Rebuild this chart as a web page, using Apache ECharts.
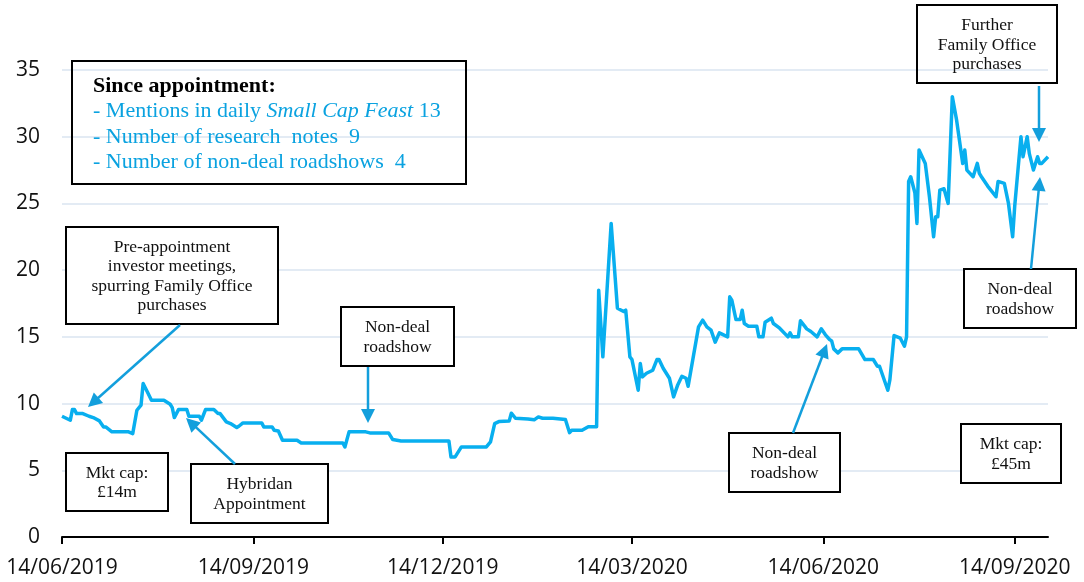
<!DOCTYPE html>
<html><head><meta charset="utf-8">
<script src="https://cdn.jsdelivr.net/npm/echarts@6/dist/echarts.min.js"></script>
<style>html,body{margin:0;padding:0;background:#fff}#c{width:1084px;height:582px}</style>
</head><body><div id="c"></div>
<script>
// ---- data ----
const dates = ['2019-06-14','2019-06-16','2019-06-18','2019-06-19','2019-06-20','2019-06-21','2019-06-24','2019-06-27','2019-06-29','2019-07-02',
'2019-07-04','2019-07-05','2019-07-08','2019-07-16','2019-07-18','2019-07-20','2019-07-22','2019-07-23','2019-07-25','2019-07-27',
'2019-08-02','2019-08-05','2019-08-06','2019-08-07','2019-08-09','2019-08-13','2019-08-14','2019-08-19','2019-08-20','2019-08-22',
'2019-08-26','2019-08-28','2019-08-29','2019-09-01','2019-09-03','2019-09-06','2019-09-07','2019-09-09','2019-09-18','2019-09-19',
'2019-09-23','2019-09-24','2019-09-26','2019-09-28','2019-10-05','2019-10-07','2019-10-27','2019-10-28','2019-10-30','2019-11-07',
'2019-11-09','2019-11-18','2019-11-20','2019-11-24','2019-12-17','2019-12-18','2019-12-20','2019-12-23','2020-01-04','2020-01-06',
'2020-01-08','2020-01-10','2020-01-15','2020-01-16','2020-01-18','2020-01-24','2020-01-27','2020-01-29','2020-01-31','2020-02-05',
'2020-02-11','2020-02-13','2020-02-14','2020-02-19','2020-02-22','2020-02-26','2020-02-27','2020-02-29','2020-03-04','2020-03-07',
'2020-03-10','2020-03-11','2020-03-13','2020-03-14','2020-03-17','2020-03-18','2020-03-19','2020-03-21','2020-03-24','2020-03-26',
'2020-03-27','2020-03-29','2020-04-01','2020-04-03','2020-04-05','2020-04-07','2020-04-09','2020-04-10','2020-04-15','2020-04-17',
'2020-04-19','2020-04-21','2020-04-23','2020-04-25','2020-04-29','2020-04-30','2020-05-01','2020-05-03','2020-05-05','2020-05-06',
'2020-05-07','2020-05-09','2020-05-13','2020-05-14','2020-05-16','2020-05-17','2020-05-20','2020-05-21','2020-05-24','2020-05-28',
'2020-05-29','2020-05-30','2020-06-02','2020-06-03','2020-06-05','2020-06-06','2020-06-08','2020-06-11','2020-06-13','2020-06-15',
'2020-06-17','2020-06-18','2020-06-19','2020-06-21','2020-06-23','2020-07-01','2020-07-04','2020-07-08','2020-07-10','2020-07-11',
'2020-07-15','2020-07-16','2020-07-18','2020-07-21','2020-07-23','2020-07-24','2020-07-25','2020-07-26','2020-07-28','2020-07-29',
'2020-07-30','2020-08-02','2020-08-04','2020-08-06','2020-08-07','2020-08-08','2020-08-09','2020-08-11','2020-08-13','2020-08-15',
'2020-08-17','2020-08-20','2020-08-21','2020-08-22','2020-08-25','2020-08-27','2020-08-28','2020-08-29','2020-09-01','2020-09-03',
'2020-09-05','2020-09-06','2020-09-09','2020-09-11','2020-09-13','2020-09-14','2020-09-17','2020-09-18','2020-09-20','2020-09-21',
'2020-09-23','2020-09-25','2020-09-26','2020-09-27','2020-09-30'];
const prices = [9.05,8.9,8.75,9.55,9.55,9.25,9.25,9.05,8.95,8.7,
8.25,8.25,7.88,7.88,7.75,9.5,9.88,11.5,10.88,10.25,
10.25,9.95,9.7,8.95,9.55,9.55,9.05,9.05,8.75,9.55,
9.55,9.25,9.25,8.63,8.5,8.2,8.3,8.55,8.55,8.25,
8.25,8.0,7.95,7.25,7.25,7.05,7.05,6.75,7.88,7.88,
7.8,7.8,7.3,7.2,7.2,6.0,6.0,6.75,6.75,7.13,
8.5,8.65,8.7,9.28,8.9,8.85,8.78,9.0,8.9,8.9,
8.8,7.82,8.0,8.0,8.27,8.27,18.5,13.5,23.5,17.15,
16.9,17.0,13.5,13.3,11.0,13.0,12.0,12.27,12.5,13.3,
13.3,12.65,11.9,10.5,11.4,12.05,11.9,11.3,15.75,16.25,
15.75,15.5,14.6,15.3,15.0,18.0,17.75,16.3,16.3,17.0,
16.0,15.8,15.8,15.0,15.0,16.1,16.4,16.0,15.65,15.0,
15.3,15.0,15.0,16.2,15.8,15.6,15.4,15.0,15.6,15.15,
14.8,14.7,14.1,13.8,14.1,14.1,13.3,13.3,12.8,12.8,
11.0,11.8,15.1,14.9,14.3,15.0,26.65,27.0,25.8,23.5,
29.0,28.0,25.5,22.5,24.0,24.0,26.0,26.1,25.0,33.0,
31.3,28.0,29.0,27.5,27.0,28.0,27.25,27.0,26.3,25.9,
25.5,26.65,26.5,25.0,22.5,24.8,30.0,28.5,30.0,28.75,
27.5,28.5,28.0,28.0,28.5];
const tickDates = ['2019-06-14','2019-09-14','2019-12-14','2020-03-14','2020-06-14','2020-09-14'];
const axisStart = '2019-06-14';
const axisEnd = '2020-09-30';
const yMin = 0, yMax = 35, yStep = 5;

// ---- helpers ----
function parseLocal(s){const p=s.split('-');return new Date(+p[0],p[1]-1,+p[2]).getTime();}
function pad(n){return (n<10?'0':'')+n;}
function fmt(v){const d=new Date(v);return pad(d.getDate())+'/'+pad(d.getMonth()+1)+'/'+d.getFullYear();}

const SERIF = '"Liberation Serif", "Times New Roman", serif';
const BLUE_TXT = '#0AA2E0';
const ARROW = '#139FDC';
const graphics = [];
function box(x,y,w,h,text,fill){
  graphics.push({type:'rect',z:20,shape:{x:x,y:y,width:w,height:h},
    style:{fill:fill,stroke:'#000',lineWidth:2}});
  if(text){
    graphics.push({type:'text',z:21,x:x+w/2,y:y+h/2+1,
      style:{text:text,fill:'#111',font:'17.5px '+SERIF,align:'center',verticalAlign:'middle',lineHeight:19.5}});
  }
}
function arrow(x1,y1,x2,y2){
  const dx=x2-x1, dy=y2-y1, L=Math.sqrt(dx*dx+dy*dy), ux=dx/L, uy=dy/L;
  const hl=14, hw=7;
  const bx=x2-ux*hl, by=y2-uy*hl;
  graphics.push({type:'line',z:22,shape:{x1:x1,y1:y1,x2:bx+ux*2,y2:by+uy*2},style:{stroke:ARROW,lineWidth:2.5}});
  graphics.push({type:'polygon',z:22,shape:{points:[[x2,y2],[bx-uy*hw,by+ux*hw],[bx+uy*hw,by-ux*hw]]},style:{fill:ARROW}});
}

// summary box
box(72,61,394,123,null,'transparent');
graphics.push({type:'text',z:21,x:93,y:86,style:{text:'Since appointment:',fill:'#000',font:'bold 22px '+SERIF,verticalAlign:'middle'}});
graphics.push({type:'text',z:21,x:93,y:111.5,style:{text:'{n|- Mentions in daily }{i|Small Cap Feast}{n| 13}',verticalAlign:'middle',
  rich:{n:{fill:BLUE_TXT,font:'22px '+SERIF},i:{fill:BLUE_TXT,font:'italic 22px '+SERIF}}}});
graphics.push({type:'text',z:21,x:93,y:137,style:{text:'- Number of research  notes  9',fill:BLUE_TXT,font:'22px '+SERIF,verticalAlign:'middle'}});
graphics.push({type:'text',z:21,x:93,y:162.5,style:{text:'- Number of non-deal roadshows  4',fill:BLUE_TXT,font:'22px '+SERIF,verticalAlign:'middle'}});

box(917,5,140,78,'Further\nFamily Office\npurchases','transparent');
box(66,227,212,97,'Pre-appointment\ninvestor meetings,\nspurring Family Office\npurchases','#fff');
box(341,307,113,59,'Non-deal\nroadshow','#fff');
box(66,453,102,58,'Mkt cap:\n£14m','#fff');
box(191,464,137,59,'Hybridan\nAppointment','#fff');
box(729,433,111,59,'Non-deal\nroadshow','#fff');
box(964,269,112,59,'Non-deal\nroadshow','#fff');
box(961,424,100,59,'Mkt cap:\n£45m','#fff');

arrow(180,325,88,407);
arrow(368,367,368,423);
arrow(235,464,186,418);
arrow(793,433,827,344);
arrow(1031,269,1040,177);
arrow(1039,86,1039,142);

const chart = echarts.init(document.getElementById('c'), null, {renderer:'canvas'});
const tickVals = tickDates.map(parseLocal);
chart.setOption({
  animation:false,
  backgroundColor:'#fff',
  grid:{left:62,right:36,top:70,bottom:45,containLabel:false},
  xAxis:{
    type:'value', min:parseLocal(axisStart), max:parseLocal(axisEnd),
    axisLine:{show:true,lineStyle:{color:'#000',width:2}},
    axisTick:{show:true,customValues:tickVals,length:7,lineStyle:{color:'#000',width:2}},
    axisLabel:{customValues:tickVals,formatter:fmt,fontFamily:'"Open Sans", sans-serif',fontSize:21,color:'#111',margin:21},
    splitLine:{show:false}
  },
  yAxis:{
    type:'value', min:yMin, max:yMax, interval:yStep,
    axisLine:{show:false}, axisTick:{show:false},
    axisLabel:{fontFamily:'"Open Sans", sans-serif',fontSize:21,color:'#111',margin:22},
    splitLine:{lineStyle:{color:'#DAE4F1',width:1.5}}
  },
  series:[{
    type:'line', showSymbol:false, symbol:'none',
    data:dates.map((d,i)=>[parseLocal(d),prices[i]]),
    lineStyle:{color:'#08AFEF',width:3.5,join:'round'},
    z:5
  }],
  graphic:graphics
});
</script>
</body></html>
